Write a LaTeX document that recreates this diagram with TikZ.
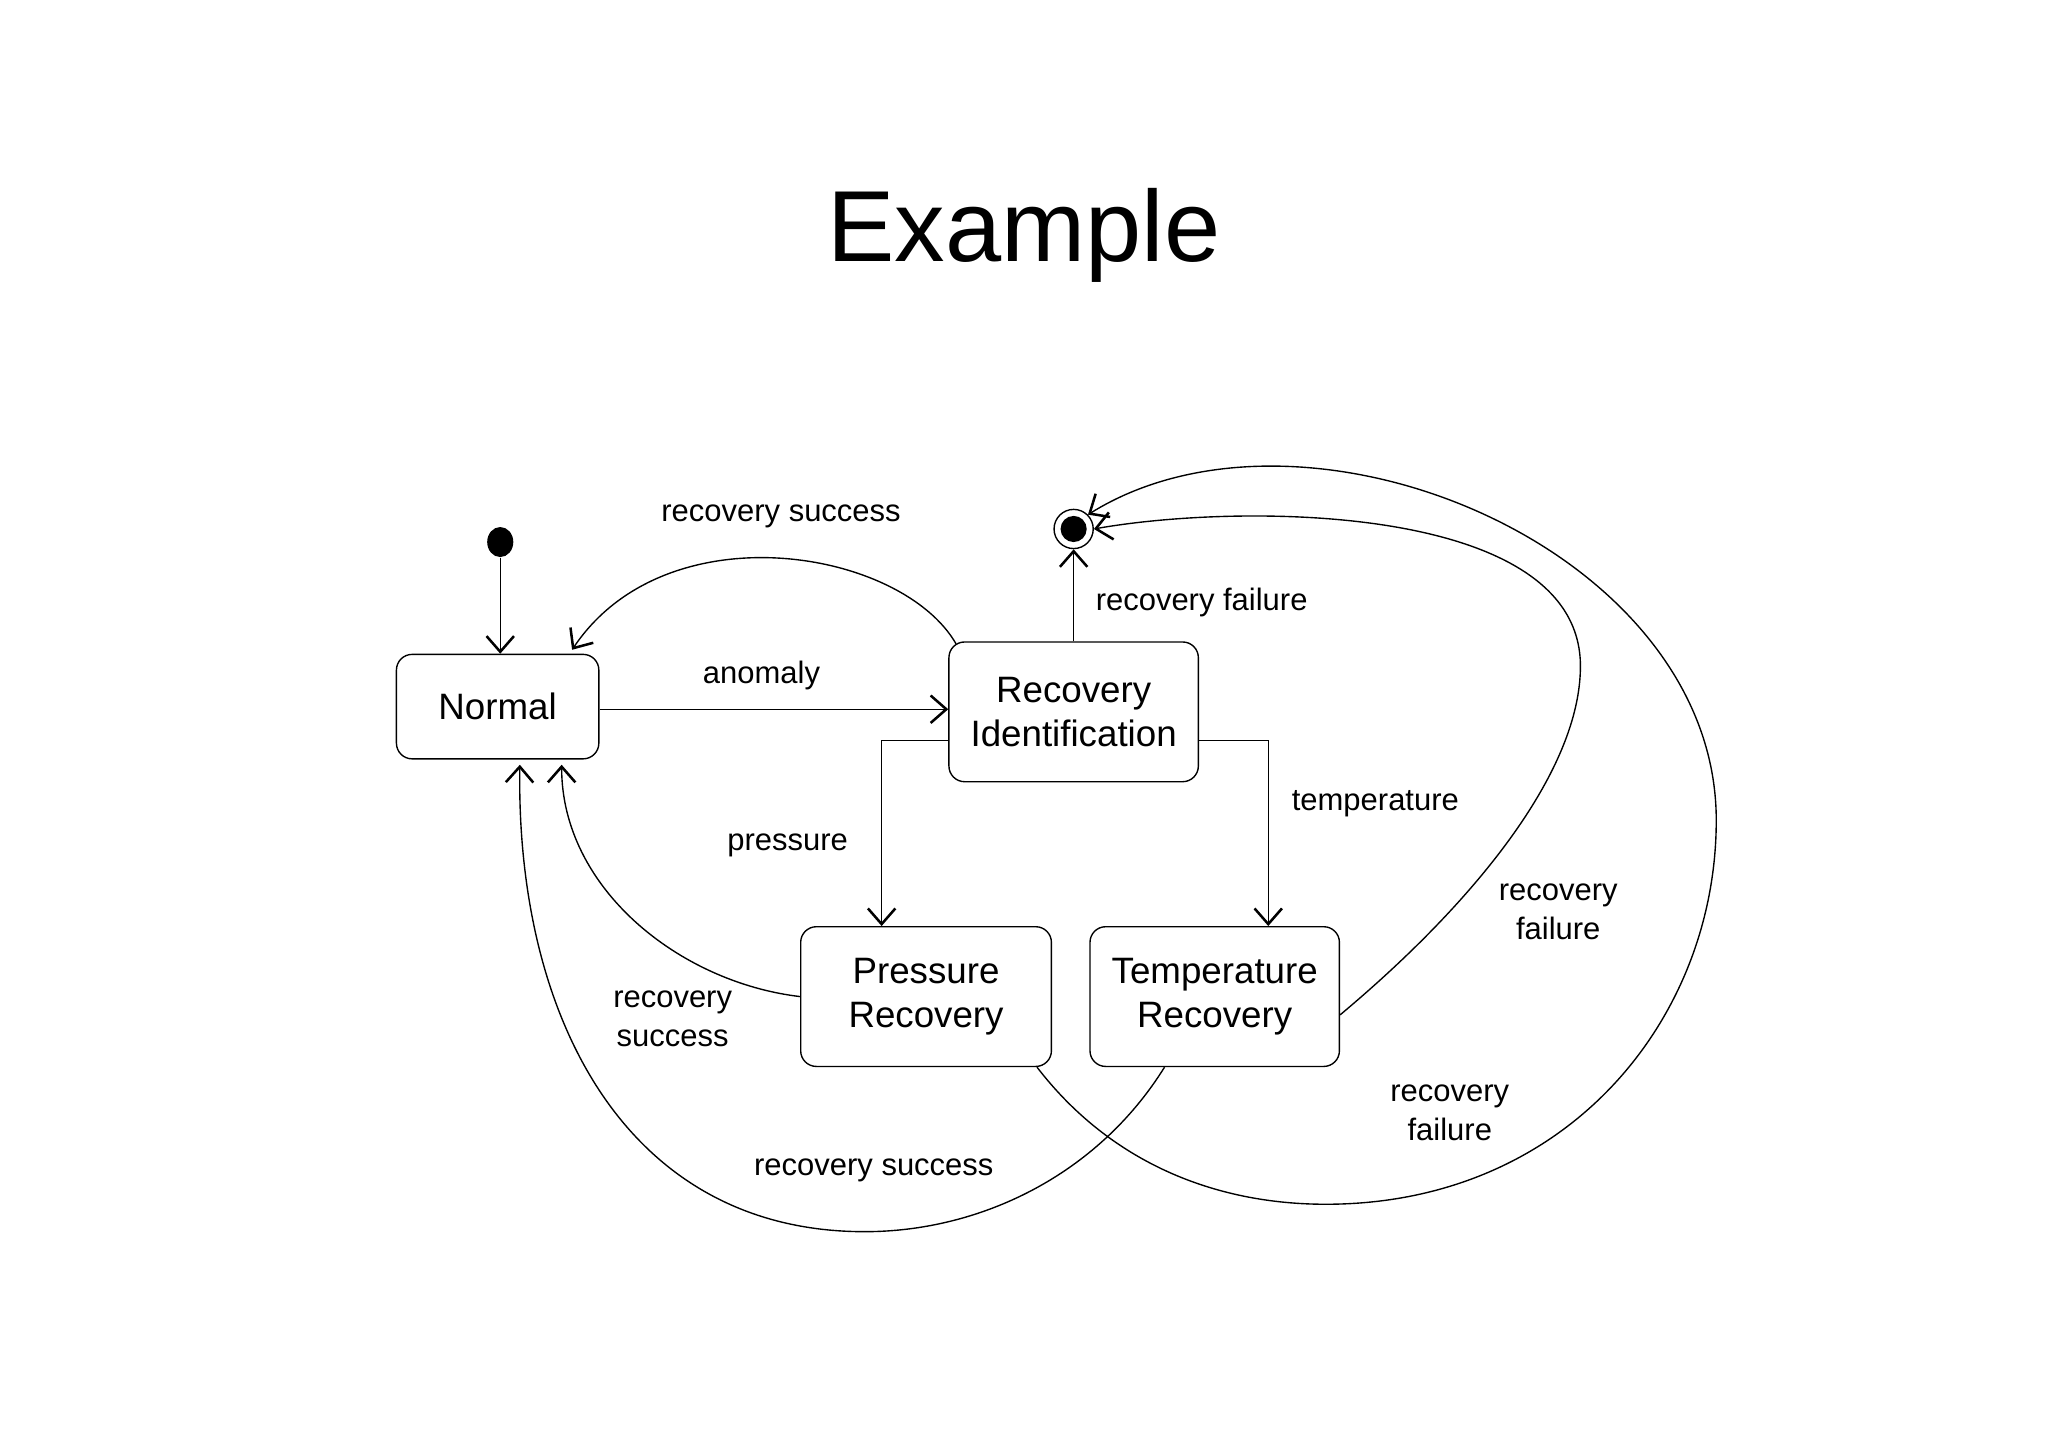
\documentclass[tikz,border=0pt]{standalone}
\usepackage{fontspec}
\setmainfont{Liberation Sans}
\usetikzlibrary{arrows.meta,calc,shapes.geometric}
\begin{document}
\begin{tikzpicture}[x=0.02cm,y=-0.02cm,
  st/.style={draw,rounded corners=0.24cm,line width=0.6pt,align=center,font=\fontsize{16}{19}\selectfont,inner sep=0pt},
  lbl/.style={font=\fontsize{13.5}{17}\selectfont,align=center},
  tr/.style={draw,line width=0.6pt,-{Straight Barb[length=0.24cm,width=0.42cm,line width=1.1pt]}}]
\useasboundingbox (0,0) rectangle (1568,1108);
\node[font=\fontsize{44}{50}\selectfont] (title) at (784,180) {Example};
\node[st,minimum width=3.1cm,minimum height=1.6cm] (n) at (381,541) {Normal};
\node[st,minimum width=3.82cm,minimum height=2.14cm] (r) at (822,545) {Recovery\\Identification};
\node[st,minimum width=3.84cm,minimum height=2.14cm] (p) at (709,763) {Pressure\\Recovery};
\node[st,minimum width=3.82cm,minimum height=2.14cm] (t) at (930,763) {Temperature\\Recovery};
\node[fill=black,ellipse,minimum width=0.4cm,minimum height=0.46cm,inner sep=0pt] (i) at (383,415) {};
\node[draw,circle,line width=0.6pt,minimum size=0.6cm,inner sep=0pt] (f) at (822,405) {};
\fill (f) circle (0.2cm);
\draw[tr] (i) -- (n.north -| i);
\draw[tr] (n.east |- 0,543) -- (r.west |- 0,543);
\draw[tr] ($(r.north west)+(6,2)$) .. controls (690,420) and (510,390) .. ($(n.north)+(57,-3)$);
\draw[tr] (r.north -| f) -- (f.south);
\draw[tr] ($(r.west)+(0,22)$) -| (p.north -| 675,0);
\draw[tr] ($(r.east)+(0,22)$) -| (t.north -| 971,0);
\draw[tr] (p.west) .. controls (520,752) and (430,680) .. ($(n.south)+(49,4)$);
\draw[tr] ($(t.south west)!0.3!(t.south east)$) .. controls (840,900) and (750,943) .. (662,943)
  .. controls (480,943) and (395,780) .. ($(n.south)+(17,4)$);
\draw[tr] ($(t.east)+(0,14)$) .. controls (1130,690) and (1210,590) .. (1210,510)
  .. controls (1210,385) and (950,385) .. (f.east);
\draw[tr] ($(p.south west)!0.94!(p.south east)$) .. controls (850,890) and (930,922) .. (1015,922)
  .. controls (1200,922) and (1314,780) .. (1314,628) .. controls (1314,420) and (1000,290) .. (f.north east);
\node[lbl] (l1) at (598,395) {recovery success};
\node[lbl] (l2) at (583,517) {anomaly};
\node[lbl] (l3) at (920,461) {recovery failure};
\node[lbl] (l4) at (603,647) {pressure};
\node[lbl] (l5) at (1053,615) {temperature};
\node[lbl] (l6) at (1193,698) {recovery\\failure};
\node[lbl] (l7) at (515,780) {recovery\\success};
\node[lbl] (l8) at (669,896) {recovery success};
\node[lbl] (l9) at (1110,852) {recovery\\failure};
\end{tikzpicture}
\end{document}
